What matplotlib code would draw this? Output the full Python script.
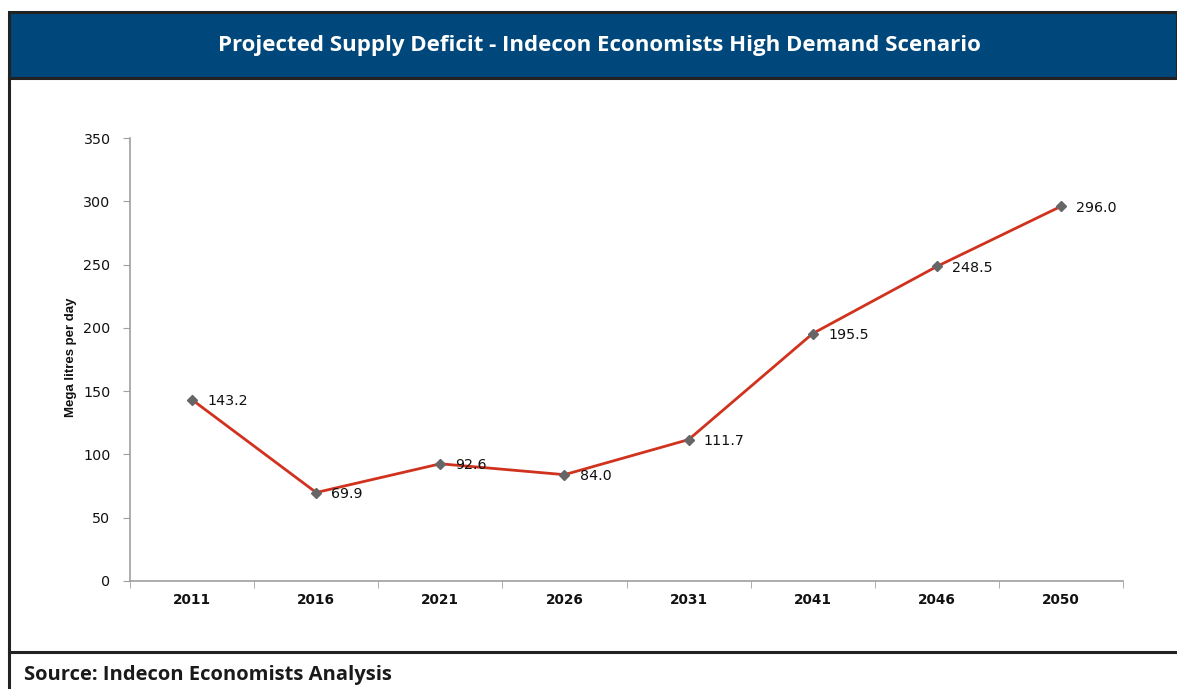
import matplotlib.pyplot as plt
from matplotlib.lines import Line2D
from matplotlib.patches import Rectangle

years = ['2011', '2016', '2021', '2026', '2031', '2041', '2046', '2050']
deficit = [143.2, 69.9, 92.6, 84.0, 111.7, 195.5, 248.5, 296.0]
yticks = [0, 50, 100, 150, 200, 250, 300, 350]

plt.rcParams['font.family'] = ['DejaVu Sans']

fig = plt.figure(figsize=(11.77, 6.89), dpi=100)

# title band and frame lines
W, H = 1177, 689
def fx(px): return px / W
def fy(py): return 1 - py / H

fig.patches.append(Rectangle((fx(9), fy(78)), fx(1177) - fx(9), fy(12) - fy(78),
                             transform=fig.transFigure, facecolor='#00477B',
                             edgecolor='#222222', linewidth=2.2, zorder=0))
fig.lines.append(Line2D([fx(9), fx(9)], [fy(78), fy(689)], transform=fig.transFigure,
                        color='#222222', linewidth=2.2))
fig.lines.append(Line2D([fx(9), 1], [fy(652), fy(652)], transform=fig.transFigure,
                        color='#222222', linewidth=2.2))

fig.text(fx(599), fy(45), 'Projected Supply Deficit - Indecon Economists High Demand Scenario',
         ha='center', va='center', color='white', fontsize=16, fontweight='bold',
         family='Open Sans')
fig.text(fx(24), fy(675), 'Source: Indecon Economists Analysis', ha='left', va='center',
         color='#1a1a1a', fontsize=14.5, fontweight='bold', family='Open Sans')

ax = fig.add_axes([fx(130), fy(581), fx(1123) - fx(130), fy(138) - fy(581)])
x = list(range(len(years)))
ax.plot(x, deficit, color='#D0321E', linewidth=2, zorder=2)
ax.plot(x, deficit, linestyle='none', marker='D', markersize=5.5,
        color='#666666', zorder=3)
for xi, v in zip(x, deficit):
    ax.annotate(f'{v:.1f}', (xi, v), xytext=(11, -1), textcoords='offset points',
                ha='left', va='center', fontsize=10.3, color='#111111',
                family='DejaVu Sans')

ax.set_xlim(-0.5, len(years) - 0.5)
ax.set_ylim(0, 350)
ax.set_yticks(yticks)
ax.set_yticklabels([str(t) for t in yticks], fontsize=10.3, color='#111111',
                   family='DejaVu Sans')
ax.set_xticks(x)
ax.set_xticklabels(years, fontsize=9.8, fontweight='bold', color='#111111',
                   family='DejaVu Sans')
ax.set_xticks([i - 0.5 for i in range(len(years) + 1)], minor=True)
ax.tick_params(axis='x', which='major', length=0, pad=9)
ax.tick_params(axis='x', which='minor', length=5, color='#A0A0A0', direction='out')
ax.tick_params(axis='y', length=5, color='#A0A0A0', pad=9)
for s in ['top', 'right']:
    ax.spines[s].set_visible(False)
for s in ['left', 'bottom']:
    ax.spines[s].set_color('#A0A0A0')
    ax.spines[s].set_linewidth(1.2)

fig.text(fx(71), fy(357), 'Mega litres per day', rotation=90, ha='center', va='center',
         fontsize=9.5, fontweight='bold', family='Liberation Sans', stretch='condensed',
         color='#111111')

fig.savefig('out.png', dpi=100)
